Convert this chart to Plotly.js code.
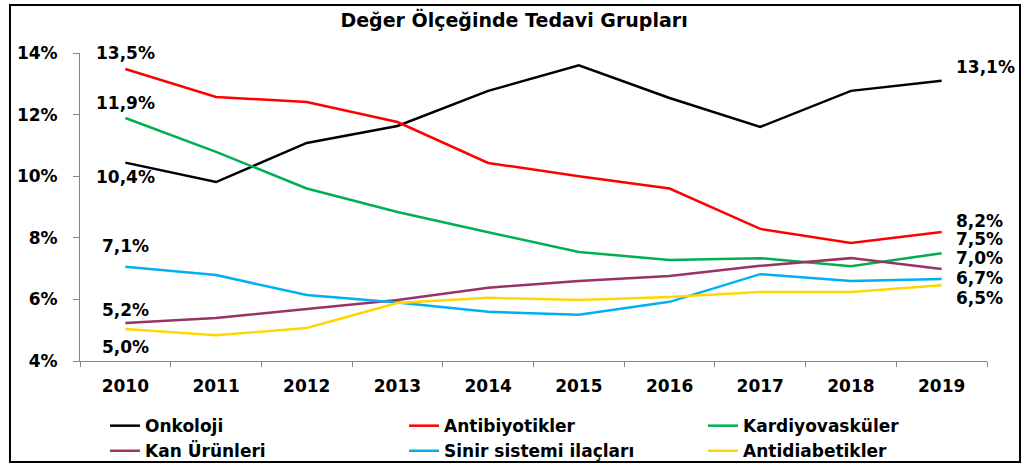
<!DOCTYPE html>
<html>
<head>
<meta charset="utf-8">
<script src="https://cdn.plot.ly/plotly-3.0.1.min.js"></script>
<style>
html,body{margin:0;padding:0;background:#fff;}
#chart{width:1022px;height:464px;}
</style>
</head>
<body>
<div id="chart"></div>
<script>
const years = ['2010','2011','2012','2013','2014','2015','2016','2017','2018','2019'];
const onkoloji        = [10.44, 9.81, 11.08, 11.63, 12.77, 13.60, 12.54, 11.60, 12.77, 13.10];
const antibiyotikler  = [13.48, 12.57, 12.41, 11.76, 10.43, 10.00, 9.60, 8.29, 7.83, 8.19];
const kardiyovaskuler = [11.89, 10.79, 9.60, 8.84, 8.18, 7.54, 7.28, 7.34, 7.08, 7.50];
const kanUrunleri     = [5.23, 5.40, 5.69, 5.98, 6.38, 6.60, 6.76, 7.09, 7.34, 6.99];
const sinirSistemi    = [7.06, 6.79, 6.14, 5.90, 5.60, 5.50, 5.92, 6.82, 6.60, 6.66];
const antidiabetikler = [5.04, 4.84, 5.07, 5.88, 6.05, 5.98, 6.08, 6.24, 6.24, 6.46];
const seriesNames = ['Onkoloji','Antibiyotikler','Kardiyovasküler','Kan Ürünleri','Sinir sistemi ilaçları','Antidiabetikler'];
const yTicks = [4, 6, 8, 10, 12, 14];
const chartTitle = 'Değer Ölçeğinde Tedavi Grupları';

const allSeries = [onkoloji, antibiyotikler, kardiyovaskuler, kanUrunleri, sinirSistemi, antidiabetikler];
const colors = ['#000000','#FF0000','#00B050','#993366','#00B0F0','#FFD700'];
const FONT = '"DejaVu Sans", "Liberation Sans", Arial, sans-serif';

const traces = allSeries.map((vals, i) => ({
  type: 'scatter', mode: 'lines', x: years, y: vals, name: seriesNames[i],
  line: {color: colors[i], width: 2.5}, hoverinfo: 'skip'
}));

function fmt(v){ return v.toFixed(1).replace('.', ',') + '%'; }

// label placement: [series index, point index, xshift, yshift, xanchor]
const labelSpecs = [
  [1, 0, 0, 16, 'center'], [2, 0, 0, 15, 'center'], [0, 0, 0, -14, 'center'],
  [4, 0, 0, 21, 'center'], [3, 0, 0, 13, 'center'], [5, 0, 0, -18, 'center'],
  [0, 9, 13, 14, 'left'], [1, 9, 13, 11, 'left'], [2, 9, 13, 14, 'left'],
  [3, 9, 13, 11, 'left'], [4, 9, 13, 1, 'left'], [5, 9, 13, -13, 'left']
];
const annotations = labelSpecs.map(s => ({
  x: s[1], y: allSeries[s[0]][s[1]], xref: 'x', yref: 'y',
  text: fmt(allSeries[s[0]][s[1]]), showarrow: false, borderpad: 0,
  xanchor: s[4], yanchor: 'middle', xshift: s[2], yshift: s[3],
  font: {family: FONT, size: 17, color: '#000', weight: 'bold'}
}));

const layout = {
  width: 1022, height: 464,
  margin: {l: 80, r: 35, t: 53, b: 103, autoexpand: false},
  paper_bgcolor: '#fff', plot_bgcolor: '#fff',
  title: {text: chartTitle, x: 0.503, xref: 'container', xanchor: 'center', y: 0.957, yref: 'container', yanchor: 'middle',
          font: {family: FONT, size: 19, color: '#000', weight: 'bold'}},
  xaxis: {type: 'category', range: [-0.5, 9.5], showgrid: false, zeroline: false,
          showline: true, linecolor: '#868686', linewidth: 1,
          ticks: 'outside', tickson: 'boundaries', ticklen: 5, tickcolor: '#868686',
          ticklabelstandoff: 10,
          tickfont: {family: FONT, size: 17, color: '#000', weight: 'bold'}},
  yaxis: {range: [4, 14], tickvals: yTicks, ticktext: yTicks.map(v => v + '%'),
          showgrid: false, zeroline: false,
          showline: true, linecolor: '#868686', linewidth: 1,
          ticks: 'outside', ticklen: 6, tickcolor: '#868686',
          ticklabelstandoff: 12,
          tickfont: {family: FONT, size: 17, color: '#000', weight: 'bold'}},
  showlegend: true,
  legend: {orientation: 'h', x: 0.0276, xanchor: 'left', y: -0.153, yanchor: 'top',
           entrywidth: 254, entrywidthmode: 'pixels', traceorder: 'normal',
           font: {family: FONT, size: 17, color: '#000', weight: 'bold'},
           bgcolor: 'rgba(0,0,0,0)'},
  annotations: annotations,
  shapes: [{type: 'rect', xref: 'paper', yref: 'paper', x0: -0.0772, x1: 1.0364, y0: -0.3279, y1: 1.1558,
            line: {color: '#000', width: 2}, fillcolor: 'rgba(0,0,0,0)', layer: 'above'}]
};

Plotly.newPlot('chart', traces, layout, {displayModeBar: false, staticPlot: true});
</script>
</body>
</html>
